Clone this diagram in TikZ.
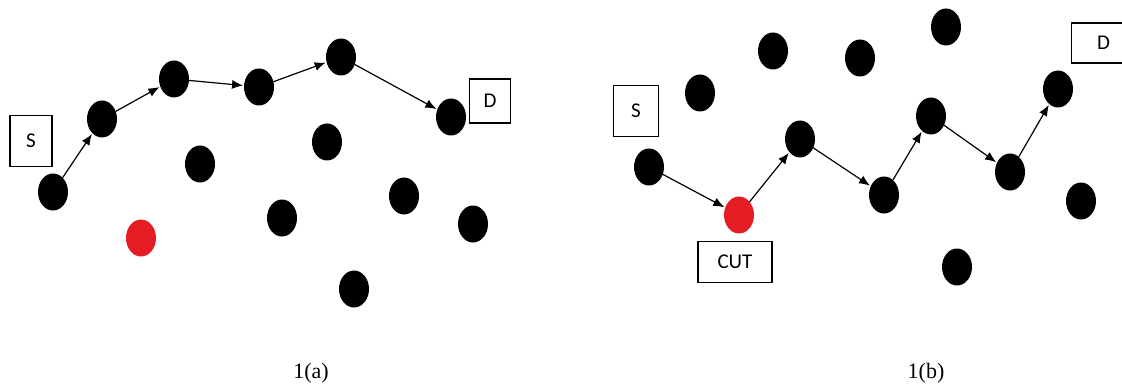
\documentclass[tikz,border=0pt]{standalone}
\usepackage{fontspec}
\setmainfont{Liberation Serif}
\newfontfamily\boxfont{Carlito}
\usetikzlibrary{shapes.geometric,arrows.meta}

\definecolor{cutred}{RGB}{228,28,36}

\tikzset{
  hop/.style={ellipse, fill=black, minimum width=30pt, minimum height=37pt, inner sep=0pt, outer sep=0pt},
  cuthop/.style={hop, fill=cutred},
  tag/.style={draw, line width=1.3pt, inner sep=0pt, font=\boxfont\fontsize{21}{25}\selectfont},
  hopedge/.style={-{Latex[length=11pt,width=9pt]}, line width=1.2pt, shorten >=1pt},
  caption/.style={font=\fontsize{22}{26}\selectfont}
}

\begin{document}
\begin{tikzpicture}[x=1pt,y=-1pt]

\useasboundingbox (0,0) rectangle (1122,385);
\clip (0,0) rectangle (1122,385);

% 1(a)
\node [tag, minimum width=42pt, minimum height=51pt] (sa) at (31,141) {S};
\node [tag, minimum width=41pt, minimum height=44pt] (da) at (490,101) {D};

\node [hop] (a1) at (53,192) {};
\node [hop] (a2) at (102,119) {};
\node [hop] (a3) at (174,79) {};
\node [hop] (a4) at (259,87) {};
\node [hop] (a5) at (341,57) {};
\node [hop] (a6) at (451,117) {};
\node [hop] (a7) at (200,164) {};
\node [hop] (a8) at (327,142) {};
\node [hop] (a9) at (404,196) {};
\node [hop] (a10) at (282,218) {};
\node [hop] (a11) at (473,224) {};
\node [hop] (a12) at (354,289) {};
\node [cuthop] (ca) at (141,238) {};

\draw [hopedge] (a1) -- (a2);
\draw [hopedge] (a2) -- (a3);
\draw [hopedge] (a3) -- (a4);
\draw [hopedge] (a4) -- (a5);
\draw [hopedge] (a5) -- (a6);

\node [caption] (capa) at (311,373) {1(a)};

% 1(b)
\node [tag, minimum width=45pt, minimum height=51pt] (sb) at (636,111) {S};
% box runs off the right edge
\node [tag, anchor=west, text width=64pt, align=center, minimum height=40pt] (db) at (1071,43) {D};
\node [tag, minimum width=74pt, minimum height=41pt] (cutb) at (735,262) {CUT};

\node [hop] (b1) at (649,167) {};
\node [cuthop] (cb) at (739,215) {};
\node [hop] (b3) at (800,139) {};
\node [hop] (b4) at (884,195) {};
\node [hop] (b5) at (931,116) {};
\node [hop] (b6) at (1010,172) {};
\node [hop] (b7) at (1058,89) {};
\node [hop] (b8) at (1081,201) {};
\node [hop] (b9) at (957,267) {};
\node [hop] (b10) at (946,27) {};
\node [hop] (b11) at (773,51) {};
\node [hop] (b12) at (860,58) {};
\node [hop] (b13) at (700,93) {};

\draw [hopedge] (b1) -- (cb);
\draw [hopedge] (cb) -- (b3);
\draw [hopedge] (b3) -- (b4);
\draw [hopedge] (b4) -- (b5);
\draw [hopedge] (b5) -- (b6);
\draw [hopedge] (b6) -- (b7);

\node [caption] (capb) at (926,373) {1(b)};

\end{tikzpicture}
\end{document}
